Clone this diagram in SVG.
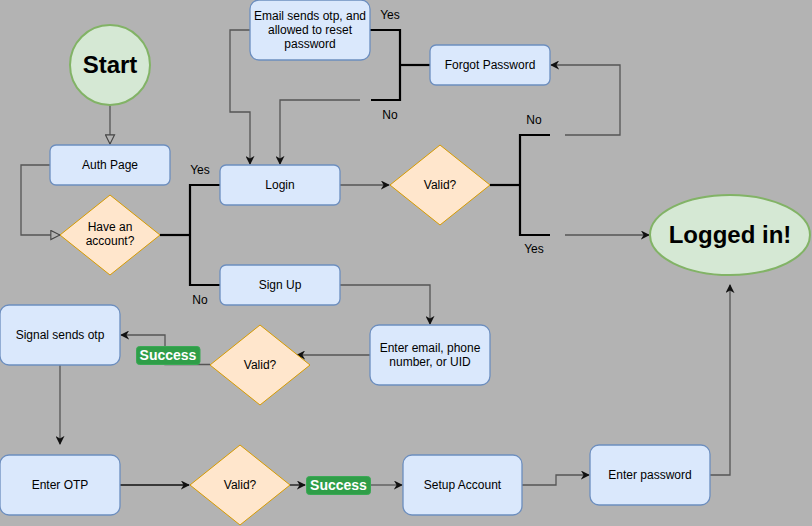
<svg xmlns="http://www.w3.org/2000/svg" width="812" height="526" viewBox="0 0 812 526">
<defs>
<style>
.box{fill:#dae8fc;stroke:#6c8ebf;stroke-width:1.3}
.dia{fill:#ffe6cc;stroke:#d79b00;stroke-width:1}
.ell{fill:#d5e8d4;stroke:#82b366;stroke-width:2}
.t{font-family:"Liberation Sans",Arial,sans-serif;font-size:12px;fill:#000;text-anchor:middle}
.big{font-family:"Liberation Sans",Arial,sans-serif;font-size:24px;font-weight:bold;fill:#000;text-anchor:middle}
.lbl{font-family:"Liberation Sans",Arial,sans-serif;font-size:12px;fill:#000;text-anchor:middle}
.succ{fill:#2f9e48;stroke:#3aa955;stroke-width:1}
.st{font-family:"Liberation Sans",Arial,sans-serif;font-size:14px;font-weight:bold;fill:#fff;text-anchor:middle}
.c{fill:none;stroke:#555;stroke-width:1.3}
.ck{fill:none;stroke:#111;stroke-width:1.3}
.br{fill:none;stroke:#000;stroke-width:2.2}
</style>
<marker id="a" viewBox="0 0 10 10" refX="9" refY="5" markerWidth="9" markerHeight="9" markerUnits="userSpaceOnUse" orient="auto">
<path d="M0,0 L10,5 L0,10 L3,5 z" fill="#111"/>
</marker>
<marker id="o" viewBox="0 0 12 12" refX="11" refY="6" markerWidth="11" markerHeight="11" markerUnits="userSpaceOnUse" orient="auto">
<path d="M1,1 L11,6 L1,11 z" fill="#b3b3b3" stroke="#444" stroke-width="1.2"/>
</marker>
</defs>
<rect x="0" y="0" width="812" height="526" fill="#b3b3b3"/>

<g id="connectors">
<path class="c" d="M110,105 V144" marker-end="url(#o)"/>
<path class="c" d="M50,165 H21 V235 H60" marker-end="url(#o)"/>
<path class="br" d="M160,235 H190"/>
<path class="br" d="M220,185 H190 V285 H220"/>
<path class="c" d="M250,30 H230 V112 H250 V164" marker-end="url(#a)"/>
<path class="c" d="M360,100 H280 V164" marker-end="url(#a)"/>
<path class="br" d="M370,30 H400 V100 H371"/>
<path class="br" d="M400,65 H430"/>
<path class="c" d="M565,135 H620 V65 H551" marker-end="url(#a)"/>
<path class="c" d="M340,185 H389" marker-end="url(#a)"/>
<path class="br" d="M490,185 H520"/>
<path class="br" d="M550,135 H520 V235 H550"/>
<path class="c" d="M565,235 H649" marker-end="url(#a)"/>
<path class="c" d="M340,285 H430 V324" marker-end="url(#a)"/>
<path class="c" d="M370,355 H297" marker-end="url(#a)"/>
<path class="c" d="M210,364.5 H165 V335 H121" marker-end="url(#a)"/>
<path class="c" d="M60,365 V444" marker-end="url(#a)"/>
<path class="ck" d="M120,485 H189" marker-end="url(#a)"/>
<path class="ck" d="M290,485 H305" marker-end="url(#a)"/>
<path class="c" d="M371,485 H402" marker-end="url(#a)"/>
<path class="c" d="M522,485 H556 V475 H589" marker-end="url(#a)"/>
<path class="c" d="M710,475 H730 V285" marker-end="url(#a)"/>
</g>

<g id="start"><circle class="ell" cx="110" cy="65" r="40"/><text class="big" x="110" y="73">Start</text></g>
<g id="auth"><rect class="box" x="50" y="145" width="120" height="40" rx="6"/><text class="t" x="110" y="169">Auth Page</text></g>
<g id="have"><polygon class="dia" points="110,195 160,235 110,275 60,235"/><text class="t" x="110" y="231">Have an</text><text class="t" x="110" y="245">account?</text></g>
<g id="login"><rect class="box" x="220" y="165" width="120" height="40" rx="6"/><text class="t" x="280" y="189">Login</text></g>
<g id="signup"><rect class="box" x="220" y="265" width="120" height="40" rx="6"/><text class="t" x="280" y="289">Sign Up</text></g>
<g id="email"><rect class="box" x="250" y="0" width="120" height="60" rx="9"/><text class="t" x="310" y="20">Email sends otp, and</text><text class="t" x="310" y="34">allowed to reset</text><text class="t" x="310" y="48">password</text></g>
<g id="forgot"><rect class="box" x="430" y="45" width="120" height="40" rx="6"/><text class="t" x="490" y="69">Forgot Password</text></g>
<g id="valid1"><polygon class="dia" points="440,145 490,185 440,225 390,185"/><text class="t" x="440" y="189">Valid?</text></g>
<g id="loggedin"><ellipse class="ell" cx="730" cy="235" rx="80" ry="40"/><text class="big" x="730" y="243">Logged in!</text></g>
<g id="enteremail"><rect class="box" x="370" y="325" width="120" height="60" rx="9"/><text class="t" x="430" y="352">Enter email, phone</text><text class="t" x="430" y="366">number, or UID</text></g>
<g id="valid2"><polygon class="dia" points="260,325 310,365 260,405 210,365"/><text class="t" x="260" y="369">Valid?</text></g>
<g id="signal"><rect class="box" x="0" y="305" width="120" height="60" rx="9"/><text class="t" x="60" y="339">Signal sends otp</text></g>
<g id="enterotp"><rect class="box" x="0" y="455" width="120" height="60" rx="9"/><text class="t" x="60" y="489">Enter OTP</text></g>
<g id="valid3"><polygon class="dia" points="240,445 290,485 240,525 190,485"/><text class="t" x="240" y="489">Valid?</text></g>
<g id="setup"><rect class="box" x="403" y="455" width="119" height="60" rx="9"/><text class="t" x="462.5" y="489">Setup Account</text></g>
<g id="password"><rect class="box" x="590" y="445" width="120" height="60" rx="9"/><text class="t" x="650" y="479">Enter password</text></g>

<g id="labels">
<text class="lbl" x="200" y="174">Yes</text>
<text class="lbl" x="200" y="304">No</text>
<text class="lbl" x="390" y="19">Yes</text>
<text class="lbl" x="390" y="119">No</text>
<text class="lbl" x="534" y="124">No</text>
<text class="lbl" x="534" y="253">Yes</text>
<g id="success1"><rect class="succ" x="136.5" y="346.5" width="63.5" height="18" rx="3"/><text class="st" x="168" y="360">Success</text></g>
<g id="success2"><rect class="succ" x="306.5" y="476.5" width="64" height="18" rx="3"/><text class="st" x="338.5" y="490">Success</text></g>
</g>
</svg>
